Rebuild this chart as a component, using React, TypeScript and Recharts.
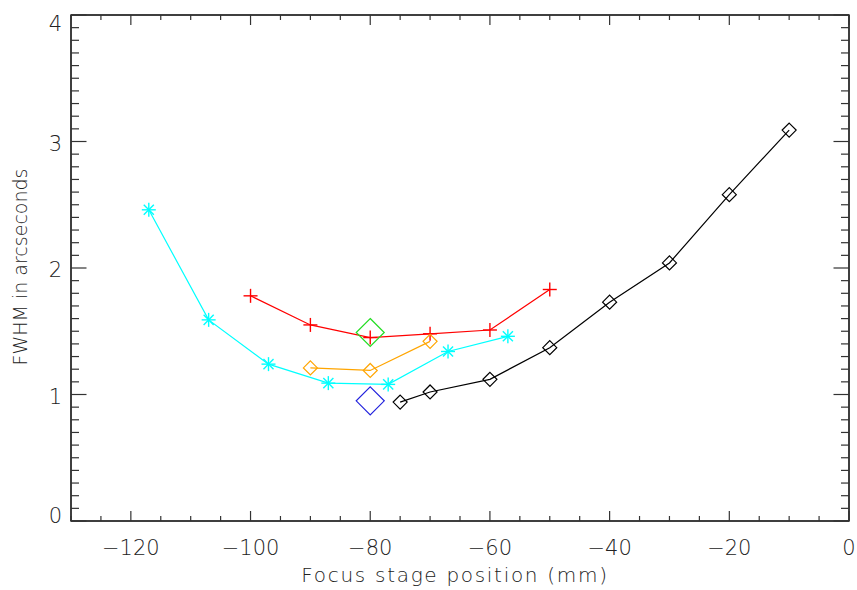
import { ScatterChart, Scatter, XAxis, YAxis, Label, ReferenceArea } from "recharts";

// focus stage position (mm) vs FWHM (arcsec)
const cyanX = [-117, -107, -97, -87, -77, -67, -57];
const cyanY = [2.46, 1.59, 1.24, 1.09, 1.08, 1.34, 1.46];

const redX = [-100, -90, -80, -70, -60, -50];
const redY = [1.78, 1.55, 1.45, 1.48, 1.51, 1.83];

const orangeX = [-90, -80, -70];
const orangeY = [1.21, 1.19, 1.42];

const blackX = [-75, -70, -60, -50, -40, -30, -20, -10];
const blackY = [0.94, 1.02, 1.12, 1.37, 1.73, 2.04, 2.58, 3.09];

const greenX = [-80];
const greenY = [1.49];

const blueX = [-80];
const blueY = [0.95];

const xMajor = [-120, -100, -80, -60, -40, -20, 0];
const yMajor = [0, 1, 2, 3, 4];
const xTicks = Array.from({ length: 27 }, (_, i) => -130 + i * 5);
const yTicks = Array.from({ length: 41 }, (_, i) => i / 10);

const toPoints = (xs: number[], ys: number[]) => xs.map((x, i) => ({ x, y: ys[i] }));

const FONT = "'DejaVu Sans', sans-serif";
const AXIS = "#333";
const TEXT = "#222";

const isXMajor = (v: number) => xMajor.includes(v);
const isYMajor = (v: number) => yMajor.includes(Math.round(v * 10) / 10);

function BottomTick({ x, y, payload }: any) {
  const v = payload.value;
  const major = isXMajor(v);
  return (
    <g>
      <line x1={x} y1={y} x2={x} y2={y - (major ? 10 : 5)} stroke={AXIS} strokeWidth={1.2} />
      {major && (
        <text x={x} y={y + 34} textAnchor="middle" fontFamily={FONT} fontSize={21} fontWeight={200} fill={TEXT}>
          {v === 0 ? "0" : "\u2212" + Math.abs(v)}
        </text>
      )}
    </g>
  );
}

function TopTick({ x, y, payload }: any) {
  const major = isXMajor(payload.value);
  return <line x1={x} y1={y} x2={x} y2={y + (major ? 10 : 5)} stroke={AXIS} strokeWidth={1.2} />;
}

function LeftTick({ x, y, payload }: any) {
  const v = Math.round(payload.value * 10) / 10;
  const major = isYMajor(v);
  const shift = v === 0 ? -6 : v === 4 ? 8.5 : 1.5;
  return (
    <g>
      <line x1={x} y1={y} x2={x + (major ? 15.5 : 8)} y2={y} stroke={AXIS} strokeWidth={1.2} />
      {major && (
        <text x={x - 9} y={y + shift + 7.6} textAnchor="end" fontFamily={FONT} fontSize={21} fontWeight={200} fill={TEXT}>
          {String(v)}
        </text>
      )}
    </g>
  );
}

function RightTick({ x, y, payload }: any) {
  const major = isYMajor(payload.value);
  return <line x1={x} y1={y} x2={x - (major ? 15.5 : 8)} y2={y} stroke={AXIS} strokeWidth={1.2} />;
}

const asterisk = (color: string, r: number) => (props: any) => {
  const { cx, cy } = props;
  const d = r * 0.72;
  return (
    <g stroke={color} strokeWidth={1.4}>
      <line x1={cx - r} y1={cy} x2={cx + r} y2={cy} />
      <line x1={cx} y1={cy - r} x2={cx} y2={cy + r} />
      <line x1={cx - d} y1={cy - d} x2={cx + d} y2={cy + d} />
      <line x1={cx - d} y1={cy + d} x2={cx + d} y2={cy - d} />
    </g>
  );
};

const plus = (color: string, r: number) => (props: any) => {
  const { cx, cy } = props;
  return (
    <g stroke={color} strokeWidth={1.4}>
      <line x1={cx - r} y1={cy} x2={cx + r} y2={cy} />
      <line x1={cx} y1={cy - r} x2={cx} y2={cy + r} />
    </g>
  );
};

const diamond = (color: string, r: number) => (props: any) => {
  const { cx, cy } = props;
  return (
    <path
      d={`M${cx},${cy - r}L${cx + r},${cy}L${cx},${cy + r}L${cx - r},${cy}Z`}
      fill="none"
      stroke={color}
      strokeWidth={1.2}
    />
  );
};

export default function App() {
  return (
    <div style={{ position: "absolute", left: 0, top: 0 }}>
      <ScatterChart width={857} height={590} margin={{ top: 14, right: 7, bottom: 0, left: 0 }}>
        <XAxis
          xAxisId="b"
          dataKey="x"
          type="number"
          domain={[-130, 0]}
          ticks={xTicks}
          interval={0}
          tickSize={0}
          tickMargin={0}
          tickLine={false}
          tick={<BottomTick />}
          height={69}
          stroke={AXIS}
          strokeWidth={1.5}
          allowDataOverflow
        >
          <Label
            content={({ viewBox }: any) => (
              <text
                x={viewBox.x + viewBox.width / 2 - 5}
                y={viewBox.y + 61}
                textAnchor="middle"
                fontFamily={FONT}
                fontSize={20}
                fontWeight={200}
                letterSpacing={1.7}
                fill={TEXT}
              >
                Focus stage position (mm)
              </text>
            )}
          />
        </XAxis>
        <XAxis
          xAxisId="t"
          orientation="top"
          dataKey="x"
          type="number"
          domain={[-130, 0]}
          ticks={xTicks}
          interval={0}
          tickSize={0}
          tickMargin={0}
          tickLine={false}
          tick={<TopTick />}
          height={1}
          stroke={AXIS}
          strokeWidth={1.5}
          allowDataOverflow
        />
        <YAxis
          yAxisId="l"
          dataKey="y"
          type="number"
          domain={[0, 4]}
          ticks={yTicks}
          interval={0}
          tickSize={0}
          tickMargin={0}
          tickLine={false}
          tick={<LeftTick />}
          width={71}
          stroke={AXIS}
          strokeWidth={1.5}
          allowDataOverflow
        >
          <Label
            content={() => (
              <text
                x={27}
                y={267}
                transform="rotate(-90, 27, 267)"
                textAnchor="middle"
                fontFamily={FONT}
                fontSize={19}
                fontWeight={200}
                fill={TEXT}
              >
                FWHM in arcseconds
              </text>
            )}
          />
        </YAxis>
        <YAxis
          yAxisId="r"
          orientation="right"
          dataKey="y"
          type="number"
          domain={[0, 4]}
          ticks={yTicks}
          interval={0}
          tickSize={0}
          tickMargin={0}
          tickLine={false}
          tick={<RightTick />}
          width={1}
          stroke={AXIS}
          strokeWidth={1.5}
          allowDataOverflow
        />
        <ReferenceArea xAxisId="b" yAxisId="l" x1={-130} x2={0} y1={0} y2={4} fill="none" stroke={AXIS} strokeWidth={1.5} ifOverflow="visible" />
        <Scatter xAxisId="b" yAxisId="l" data={toPoints(cyanX, cyanY)} line={{ stroke: "#00ffff", strokeWidth: 1.2 }} shape={asterisk("#00ffff", 7)} isAnimationActive={false} />
        <Scatter xAxisId="b" yAxisId="l" data={toPoints(redX, redY)} line={{ stroke: "#ff0000", strokeWidth: 1.2 }} shape={plus("#ff0000", 7)} isAnimationActive={false} />
        <Scatter xAxisId="b" yAxisId="l" data={toPoints(orangeX, orangeY)} line={{ stroke: "#ffa500", strokeWidth: 1.2 }} shape={diamond("#ffa500", 7)} isAnimationActive={false} />
        <Scatter xAxisId="b" yAxisId="l" data={toPoints(blackX, blackY)} line={{ stroke: "#000000", strokeWidth: 1.2 }} shape={diamond("#000000", 7)} isAnimationActive={false} />
        <Scatter xAxisId="b" yAxisId="l" data={toPoints(greenX, greenY)} shape={diamond("#22dd22", 14)} isAnimationActive={false} />
        <Scatter xAxisId="b" yAxisId="l" data={toPoints(blueX, blueY)} shape={diamond("#2222dd", 14)} isAnimationActive={false} />
      </ScatterChart>
    </div>
  );
}
